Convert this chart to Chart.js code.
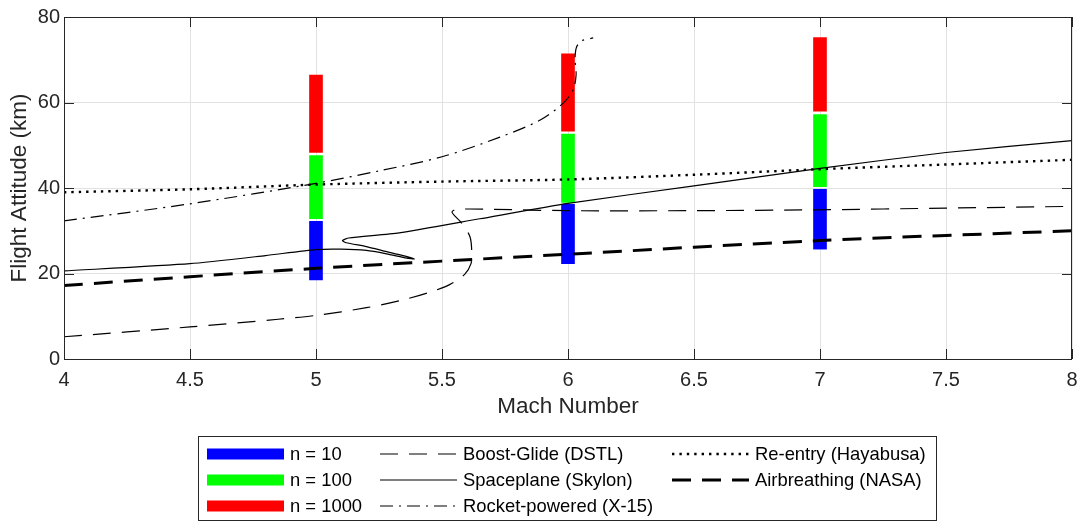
<!DOCTYPE html>
<html>
<head>
<meta charset="utf-8">
<script src="https://cdn.jsdelivr.net/npm/chart.js"></script>
<style>
    body { margin: 0; background: #ffffff; }
    #wrap { width: 1079px; height: 522px; }
</style>
</head>
<body>
<div id="wrap"><canvas id="chart" width="1079" height="522"></canvas></div>
<script>
// bars: altitude ranges at each Mach number
const barMach = [5, 6, 7];
const n10Low = [18.5, 22.3, 25.7];
const n10High = [32.2, 36.2, 39.7];
const n100Low = [32.8, 36.6, 40.3];
const n100High = [47.6, 52.6, 57.2];
const n1000Low = [48.3, 53.3, 58.0];
const n1000High = [66.4, 71.4, 75.2];

// trajectories (Mach, altitude km)
const boostMach = [4, 4.5, 4.85, 5, 5.2, 5.35, 5.45, 5.53, 5.59, 5.615, 5.618, 5.611, 5.578, 5.54, 5.557, 5.7, 6, 6.5, 7, 7.5, 8];
const boostAlt = [5.2, 7.5, 9.3, 10.2, 12.0, 13.9, 15.6, 17.4, 19.8, 22.3, 25.1, 28.6, 31.8, 34.3, 35.0, 35.0, 34.7, 34.7, 34.9, 35.3, 35.7];

const skylonMach = [4, 4.5, 4.8, 5, 5.1, 5.2, 5.28, 5.36, 5.39, 5.33, 5.28, 5.2, 5.12, 5.105, 5.13, 5.33, 5.65, 6, 6.5, 7, 7.5, 8];
const skylonAlt = [20.6, 22.3, 24.2, 25.6, 25.7, 25.4, 24.6, 23.6, 23.4, 24.4, 25.1, 26.3, 27.2, 27.7, 28.3, 29.5, 32.8, 36.4, 40.5, 44.6, 48.3, 51.1];

const rocketMach = [4, 4.5, 5, 5.25, 5.5, 5.73, 5.89, 5.98, 6.02, 6.032, 6.028, 6.034, 6.054, 6.1];
const rocketAlt = [32.3, 36.3, 41.1, 44.0, 47.3, 51.9, 55.9, 59.8, 62.9, 66.4, 70.3, 73.0, 74.4, 75.1];

const hayabusaMach = [4, 4.5, 5, 5.5, 6, 6.5, 7, 7.5, 8];
const hayabusaAlt = [39.0, 39.7, 40.8, 41.5, 42.0, 43.1, 44.4, 45.5, 46.6];

const nasaMach = [4, 5, 6, 7, 8];
const nasaAlt = [17.2, 21.2, 24.5, 27.7, 30.0];

const xTicks = [4, 4.5, 5, 5.5, 6, 6.5, 7, 7.5, 8];
const yTicks = [0, 20, 40, 60, 80];

const FONT = "'Liberation Sans', Arial, sans-serif";
const AXIS_COLOR = '#262626';

function pairs(xs, ys)
{
    return xs.map((x, i) => ({ x: x, y: ys[i] }));
}

function ranges(xs, lo, hi)
{
    return xs.map((x, i) => ({ x: x, y: [lo[i], hi[i]] }));
}

function barSet(label, color, lo, hi)
{
    return {
        type: 'bar',
        label: label,
        data: ranges(barMach, lo, hi),
        backgroundColor: color,
        borderWidth: 0,
        barThickness: 13,
        grouped: false,
        order: 2
    };
}

function lineSet(label, xs, ys, width, dash, tension)
{
    return {
        type: 'line',
        label: label,
        data: pairs(xs, ys),
        borderColor: '#000000',
        borderWidth: width,
        borderDash: dash,
        borderCapStyle: 'butt',
        pointRadius: 0,
        tension: tension,
        fill: false,
        order: 1
    };
}

// axes box with inward ticks, like the original plot
const boxPlugin =
{
    id: 'boxPlugin',
    afterDatasetsDraw(chart)
    {
        const { ctx, chartArea: a, scales } = chart;
        const len = 10;
        ctx.save();
        ctx.strokeStyle = AXIS_COLOR;
        ctx.lineWidth = 1;
        ctx.setLineDash([]);
        ctx.strokeRect(a.left + 0.5, a.top + 0.5, a.right - a.left - 1, a.bottom - a.top);

        ctx.beginPath();
        for (const v of xTicks)
        {
            const px = Math.round(scales.x.getPixelForValue(v)) + 0.5;
            ctx.moveTo(px, a.bottom);
            ctx.lineTo(px, a.bottom - len);
            ctx.moveTo(px, a.top);
            ctx.lineTo(px, a.top + len);
        }
        for (const v of yTicks)
        {
            const py = Math.round(scales.y.getPixelForValue(v)) + 0.5;
            ctx.moveTo(a.left, py);
            ctx.lineTo(a.left + len, py);
            ctx.moveTo(a.right, py);
            ctx.lineTo(a.right - len, py);
        }
        ctx.stroke();
        ctx.restore();
    }
};

// boxed legend under the plot, three columns filled top to bottom
const legendPlugin =
{
    id: 'legendPlugin',
    afterDraw(chart)
    {
        const ctx = chart.ctx;
        const box = { left: 198.5, top: 436.5, right: 936.5, bottom: 520.5 };
        const cols = [207, 380, 672];
        const rows = [454, 480, 506];
        const sampleW = 77;

        ctx.save();
        ctx.fillStyle = '#ffffff';
        ctx.fillRect(box.left, box.top, box.right - box.left, box.bottom - box.top);
        ctx.strokeStyle = AXIS_COLOR;
        ctx.lineWidth = 1;
        ctx.strokeRect(box.left, box.top, box.right - box.left, box.bottom - box.top);

        ctx.font = '18.4px ' + FONT;
        ctx.textBaseline = 'middle';
        ctx.textAlign = 'left';

        chart.data.datasets.forEach((ds, i) =>
        {
            const x0 = cols[Math.floor(i / 3)];
            const y0 = rows[i % 3];

            if (ds.type === 'bar')
            {
                ctx.fillStyle = ds.backgroundColor;
                ctx.fillRect(x0, y0 - 5.5, sampleW, 11);
            }
            else
            {
                ctx.strokeStyle = ds.borderColor;
                ctx.lineWidth = ds.borderWidth;
                ctx.setLineDash(ds.borderDash);
                ctx.beginPath();
                ctx.moveTo(x0, y0);
                ctx.lineTo(x0 + sampleW, y0);
                ctx.stroke();
                ctx.setLineDash([]);
            }

            ctx.fillStyle = '#000000';
            ctx.fillText(ds.label, x0 + sampleW + 6, y0 + 1);
        });
        ctx.restore();
    }
};

const data =
{
    datasets:
    [
        barSet('n = 10', '#0000ff', n10Low, n10High),
        barSet('n = 100', '#00ff00', n100Low, n100High),
        barSet('n = 1000', '#ff0000', n1000Low, n1000High),
        lineSet('Boost-Glide (DSTL)', boostMach, boostAlt, 1.2, [18, 11], 0.3),
        lineSet('Spaceplane (Skylon)', skylonMach, skylonAlt, 1.2, [], 0.2),
        lineSet('Rocket-powered (X-15)', rocketMach, rocketAlt, 1.2, [13, 6, 2, 6], 0.3),
        lineSet('Re-entry (Hayabusa)', hayabusaMach, hayabusaAlt, 2.4, [2.4, 5], 0.3),
        lineSet('Airbreathing (NASA)', nasaMach, nasaAlt, 3, [19, 11], 0.3)
    ]
};

const config =
{
    type: 'bar',
    data: data,
    options:
    {
        responsive: false,
        animation: false,
        layout:
        {
            padding: { top: 17, right: 7, left: 0, bottom: 0 }
        },
        plugins:
        {
            legend: { display: false },
            tooltip: { enabled: false }
        },
        scales:
        {
            x:
            {
                type: 'linear',
                min: 4,
                max: 8,
                offset: false,
                afterFit: (scale) =>
                {
                    scale.height = 163;
                    scale.paddingLeft = 0;
                    scale.paddingRight = 0;
                },
                afterBuildTicks: (scale) => { scale.ticks = xTicks.map(v => ({ value: v })); },
                ticks:
                {
                    color: AXIS_COLOR,
                    padding: 9,
                    maxRotation: 0,
                    font: { family: FONT, size: 20 },
                    callback: (v) => String(v)
                },
                grid:
                {
                    color: '#e2e2e2',
                    drawTicks: false,
                    offset: false
                },
                border: { display: false },
                title:
                {
                    display: true,
                    text: 'Mach Number',
                    color: AXIS_COLOR,
                    font: { family: FONT, size: 22.5 },
                    padding: { top: 0, bottom: 102 }
                }
            },
            y:
            {
                type: 'linear',
                min: 0,
                max: 80,
                afterFit: (scale) => { scale.width = 64; },
                afterBuildTicks: (scale) => { scale.ticks = yTicks.map(v => ({ value: v })); },
                ticks:
                {
                    color: AXIS_COLOR,
                    padding: 4,
                    font: { family: FONT, size: 20 },
                    callback: (v) => String(v)
                },
                grid:
                {
                    color: '#e2e2e2',
                    drawTicks: false
                },
                border: { display: false },
                title:
                {
                    display: true,
                    text: 'Flight Attitude (km)',
                    color: AXIS_COLOR,
                    font: { family: FONT, size: 22.5 },
                    padding: { top: 6, bottom: 0 }
                }
            }
        }
    },
    plugins: [boxPlugin, legendPlugin]
};

new Chart(document.getElementById('chart').getContext('2d'), config);
</script>
</body>
</html>
